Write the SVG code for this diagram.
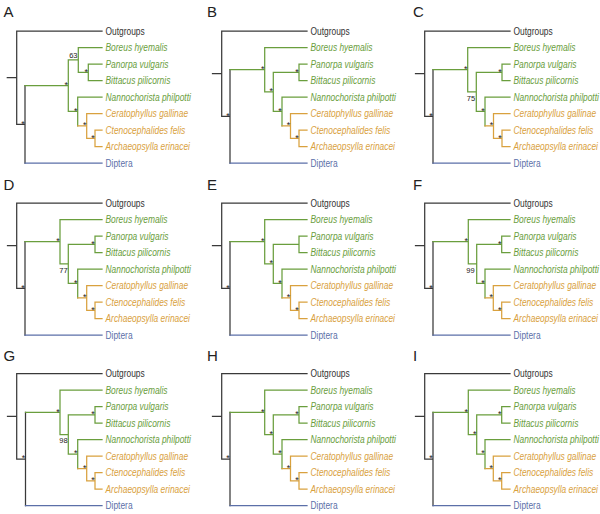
<svg xmlns="http://www.w3.org/2000/svg" width="600" height="514" viewBox="0 0 600 514">
<style>
rect.bg{fill:#fff}
path{fill:none;stroke-width:1.25;stroke-linecap:square;stroke-linejoin:miter}
.k{stroke:#3a3a3a}.g{stroke:#6a9e3d}.o{stroke:#d9a13e}.b{stroke:#5b6fa8}
text{font-family:"Liberation Sans",Arial,sans-serif}
.pl{font-size:15px;fill:#222}
.t{font-size:10.5px}
.i{font-style:italic}
.tk{fill:#333}.tg{fill:#6a9e3d}.to{fill:#d9a13e}.tb{fill:#5b6fa8}
.s{font-size:9px;fill:#222;text-anchor:end}
.ne{font-size:7.5px;fill:#222;text-anchor:end}
.n{font-size:7.5px;fill:#222;text-anchor:middle}
</style>
<rect class="bg" x="0" y="0" width="600" height="514"/>

<!-- Panel A -->
<g id="panelA">
<text class="pl" x="3.5" y="16.5">A</text>
<g id="A-connectors">
<path class="k" d="M7.3,77.66H16.7M102,31H16.7V124.33H25M25,85.66V163"/>
<path class="b" d="M25,163H102"/>
<path class="g" d="M25,85.66H68.3M68.3,59.88V111.44M68.3,59.88H78.3M102,47.5H78.3V72.25H88.3M102,64H88.3V80.5H102M68.3,111.44H77.7M102,97H77.7V125.88"/>
<path class="o" d="M77.7,125.88H86.7M102,113.5H86.7V138.25H95M102,130H95V146.5H102"/>
</g>
<g id="A-support">
<text class="s" x="24.7" y="126.6">*</text>
<text class="s" x="68" y="88">*</text>
<text class="ne" x="77.5" y="57.5">63</text>
<text class="s" x="88" y="74.5">*</text>
<text class="s" x="77.4" y="113.7">*</text>
<text class="s" x="86.4" y="128.2">*</text>
<text class="s" x="94.7" y="140.5">*</text>
</g>
<g transform="translate(105.5,0) scale(0.8,1)">
<g id="A-outgroups"><text class="t tk" x="0" y="34.7">Outgroups</text></g>
<g id="A-boreus"><text class="t i tg" x="0" y="51.2">Boreus hyemalis</text></g>
<g id="A-panorpa"><text class="t i tg" x="0" y="67.7">Panorpa vulgaris</text></g>
<g id="A-bittacus"><text class="t i tg" x="0" y="84.2">Bittacus pilicornis</text></g>
<g id="A-nannochorista"><text class="t i tg" x="0" y="100.7">Nannochorista philpotti</text></g>
<g id="A-ceratophyllus"><text class="t i to" x="0" y="117.2">Ceratophyllus gallinae</text></g>
<g id="A-ctenocephalides"><text class="t i to" x="0" y="133.7">Ctenocephalides felis</text></g>
<g id="A-archaeopsylla"><text class="t i to" x="0" y="150.2">Archaeopsylla erinacei</text></g>
<g id="A-diptera"><text class="t tb" x="0" y="166.7">Diptera</text></g>
</g>
</g>

<!-- Panel B -->
<g id="panelB" transform="translate(205,0)">
<text class="pl" x="2" y="16.5">B</text>
<g id="B-connectors">
<path class="k" d="M7.5,73.67H16.7M102,31H16.7V116.34H25M25,69.67V163"/>
<path class="b" d="M25,163H102"/>
<path class="g" d="M25,69.67H59.7M102,47.5H59.7V91.84H68.3M102,64H94V80.5H102M94,72.25H68.3V111.44H77M102,97H77V125.88"/>
<path class="o" d="M77,125.88H85.5M102,113.5H85.5V138.25H94M102,130H94V146.5H102"/>
</g>
<g id="B-support">
<text class="s" x="24.7" y="118.6">*</text>
<text class="s" x="59.4" y="72">*</text>
<text class="s" x="68" y="94.1">*</text>
<text class="s" x="93.7" y="74.5">*</text>
<text class="s" x="76.7" y="113.7">*</text>
<text class="s" x="85.2" y="128.2">*</text>
<text class="s" x="93.7" y="140.5">*</text>
</g>
<g transform="translate(105.5,0) scale(0.8,1)">
<g id="B-outgroups"><text class="t tk" x="0" y="34.7">Outgroups</text></g>
<g id="B-boreus"><text class="t i tg" x="0" y="51.2">Boreus hyemalis</text></g>
<g id="B-panorpa"><text class="t i tg" x="0" y="67.7">Panorpa vulgaris</text></g>
<g id="B-bittacus"><text class="t i tg" x="0" y="84.2">Bittacus pilicornis</text></g>
<g id="B-nannochorista"><text class="t i tg" x="0" y="100.7">Nannochorista philpotti</text></g>
<g id="B-ceratophyllus"><text class="t i to" x="0" y="117.2">Ceratophyllus gallinae</text></g>
<g id="B-ctenocephalides"><text class="t i to" x="0" y="133.7">Ctenocephalides felis</text></g>
<g id="B-archaeopsylla"><text class="t i to" x="0" y="150.2">Archaeopsylla erinacei</text></g>
<g id="B-diptera"><text class="t tb" x="0" y="166.7">Diptera</text></g>
</g>
</g>

<!-- Panel C -->
<g id="panelC" transform="translate(408,0)">
<text class="pl" x="5" y="16.5">C</text>
<g id="C-connectors">
<path class="k" d="M7.5,73.67H16.7M102,31H16.7V116.34H25M25,69.67V163"/>
<path class="b" d="M25,163H102"/>
<path class="g" d="M25,69.67H59.7M102,47.5H59.7V91.84H68.3M102,64H94V80.5H102M94,72.25H68.3V111.44H77M102,97H77V125.88"/>
<path class="o" d="M77,125.88H85.5M102,113.5H85.5V138.25H94M102,130H94V146.5H102"/>
</g>
<g id="C-support">
<text class="s" x="24.7" y="118.6">*</text>
<text class="s" x="59.4" y="72">*</text>
<text class="n" x="63" y="100.5">75</text>
<text class="s" x="93.7" y="74.5">*</text>
<text class="s" x="76.7" y="113.7">*</text>
<text class="s" x="85.2" y="128.2">*</text>
<text class="s" x="93.7" y="140.5">*</text>
</g>
<g transform="translate(105.5,0) scale(0.8,1)">
<g id="C-outgroups"><text class="t tk" x="0" y="34.7">Outgroups</text></g>
<g id="C-boreus"><text class="t i tg" x="0" y="51.2">Boreus hyemalis</text></g>
<g id="C-panorpa"><text class="t i tg" x="0" y="67.7">Panorpa vulgaris</text></g>
<g id="C-bittacus"><text class="t i tg" x="0" y="84.2">Bittacus pilicornis</text></g>
<g id="C-nannochorista"><text class="t i tg" x="0" y="100.7">Nannochorista philpotti</text></g>
<g id="C-ceratophyllus"><text class="t i to" x="0" y="117.2">Ceratophyllus gallinae</text></g>
<g id="C-ctenocephalides"><text class="t i to" x="0" y="133.7">Ctenocephalides felis</text></g>
<g id="C-archaeopsylla"><text class="t i to" x="0" y="150.2">Archaeopsylla erinacei</text></g>
<g id="C-diptera"><text class="t tb" x="0" y="166.7">Diptera</text></g>
</g>
</g>

<!-- Panel D -->
<g id="panelD" transform="translate(0,172)">
<text class="pl" x="3.5" y="18">D</text>
<g id="D-connectors">
<path class="k" d="M7.5,73.67H16.7M102,31H16.7V116.34H25M25,69.67V163"/>
<path class="b" d="M25,163H102"/>
<path class="g" d="M25,69.67H60M102,47.5H60V91.84H68.3M102,64H95V80.5H102M95,72.25H68.3V111.44H77.7M102,97H77.7V125.88"/>
<path class="o" d="M77.7,125.88H86.7M102,113.5H86.7V138.25H95M102,130H95V146.5H102"/>
</g>
<g id="D-support">
<text class="s" x="24.7" y="118.6">*</text>
<text class="s" x="59.7" y="72">*</text>
<text class="n" x="63.5" y="100.8">77</text>
<text class="s" x="94.7" y="74.5">*</text>
<text class="s" x="77.4" y="113.7">*</text>
<text class="s" x="86.4" y="128.2">*</text>
<text class="s" x="94.7" y="140.5">*</text>
</g>
<g transform="translate(105.5,0) scale(0.8,1)">
<g id="D-outgroups"><text class="t tk" x="0" y="34.7">Outgroups</text></g>
<g id="D-boreus"><text class="t i tg" x="0" y="51.2">Boreus hyemalis</text></g>
<g id="D-panorpa"><text class="t i tg" x="0" y="67.7">Panorpa vulgaris</text></g>
<g id="D-bittacus"><text class="t i tg" x="0" y="84.2">Bittacus pilicornis</text></g>
<g id="D-nannochorista"><text class="t i tg" x="0" y="100.7">Nannochorista philpotti</text></g>
<g id="D-ceratophyllus"><text class="t i to" x="0" y="117.2">Ceratophyllus gallinae</text></g>
<g id="D-ctenocephalides"><text class="t i to" x="0" y="133.7">Ctenocephalides felis</text></g>
<g id="D-archaeopsylla"><text class="t i to" x="0" y="150.2">Archaeopsylla erinacei</text></g>
<g id="D-diptera"><text class="t tb" x="0" y="166.7">Diptera</text></g>
</g>
</g>

<!-- Panel E -->
<g id="panelE" transform="translate(205,172)">
<text class="pl" x="2" y="18">E</text>
<g id="E-connectors">
<path class="k" d="M7.5,73.67H16.7M102,31H16.7V116.34H25M25,69.67V163"/>
<path class="b" d="M25,163H102"/>
<path class="g" d="M25,69.67H59.7M102,47.5H59.7V91.84H68.3M102,64H94V80.5H102M94,72.25H68.3V111.44H77M102,97H77V125.88"/>
<path class="o" d="M77,125.88H85.5M102,113.5H85.5V138.25H94M102,130H94V146.5H102"/>
</g>
<g id="E-support">
<text class="s" x="24.7" y="118.6">*</text>
<text class="s" x="59.4" y="72">*</text>
<text class="s" x="68" y="94.1">*</text>
<text class="s" x="76.7" y="113.7">*</text>
<text class="s" x="85.2" y="128.2">*</text>
<text class="s" x="93.7" y="140.5">*</text>
</g>
<g transform="translate(105.5,0) scale(0.8,1)">
<g id="E-outgroups"><text class="t tk" x="0" y="34.7">Outgroups</text></g>
<g id="E-boreus"><text class="t i tg" x="0" y="51.2">Boreus hyemalis</text></g>
<g id="E-panorpa"><text class="t i tg" x="0" y="67.7">Panorpa vulgaris</text></g>
<g id="E-bittacus"><text class="t i tg" x="0" y="84.2">Bittacus pilicornis</text></g>
<g id="E-nannochorista"><text class="t i tg" x="0" y="100.7">Nannochorista philpotti</text></g>
<g id="E-ceratophyllus"><text class="t i to" x="0" y="117.2">Ceratophyllus gallinae</text></g>
<g id="E-ctenocephalides"><text class="t i to" x="0" y="133.7">Ctenocephalides felis</text></g>
<g id="E-archaeopsylla"><text class="t i to" x="0" y="150.2">Archaeopsylla erinacei</text></g>
<g id="E-diptera"><text class="t tb" x="0" y="166.7">Diptera</text></g>
</g>
</g>

<!-- Panel F -->
<g id="panelF" transform="translate(408,172)">
<text class="pl" x="5" y="18">F</text>
<g id="F-connectors">
<path class="k" d="M7.5,73.67H16.7M102,31H16.7V116.34H25M25,69.67V163"/>
<path class="b" d="M25,163H102"/>
<path class="g" d="M25,69.67H60.3M102,47.5H60.3V91.84H68.7M102,64H93.7V80.5H102M93.7,72.25H68.7V111.44H77M102,97H77V125.88"/>
<path class="o" d="M77,125.88H85.3M102,113.5H85.3V138.25H93.7M102,130H93.7V146.5H102"/>
</g>
<g id="F-support">
<text class="s" x="24.7" y="118.6">*</text>
<text class="s" x="60" y="72">*</text>
<text class="n" x="62.5" y="100.8">99</text>
<text class="s" x="93.4" y="74.5">*</text>
<text class="s" x="76.7" y="113.7">*</text>
<text class="s" x="85" y="128.2">*</text>
<text class="s" x="93.4" y="140.5">*</text>
</g>
<g transform="translate(105.5,0) scale(0.8,1)">
<g id="F-outgroups"><text class="t tk" x="0" y="34.7">Outgroups</text></g>
<g id="F-boreus"><text class="t i tg" x="0" y="51.2">Boreus hyemalis</text></g>
<g id="F-panorpa"><text class="t i tg" x="0" y="67.7">Panorpa vulgaris</text></g>
<g id="F-bittacus"><text class="t i tg" x="0" y="84.2">Bittacus pilicornis</text></g>
<g id="F-nannochorista"><text class="t i tg" x="0" y="100.7">Nannochorista philpotti</text></g>
<g id="F-ceratophyllus"><text class="t i to" x="0" y="117.2">Ceratophyllus gallinae</text></g>
<g id="F-ctenocephalides"><text class="t i to" x="0" y="133.7">Ctenocephalides felis</text></g>
<g id="F-archaeopsylla"><text class="t i to" x="0" y="150.2">Archaeopsylla erinacei</text></g>
<g id="F-diptera"><text class="t tb" x="0" y="166.7">Diptera</text></g>
</g>
</g>

<!-- Panel G -->
<g id="panelG" transform="translate(0,342.7)">
<text class="pl" x="3.5" y="18.5">G</text>
<g id="G-connectors">
<path class="k" d="M7.5,73.67H16.7M102,31H16.7V116.34H25.5M25.5,69.67V163"/>
<path class="b" d="M25.5,163H102"/>
<path class="g" d="M25.5,69.67H60M102,47.5H60V91.84H68.3M102,64H95V80.5H102M95,72.25H68.3V111.44H77.7M102,97H77.7V125.88"/>
<path class="o" d="M77.7,125.88H86.7M102,113.5H86.7V138.25H95M102,130H95V146.5H102"/>
</g>
<g id="G-support">
<text class="s" x="25.2" y="118.6">*</text>
<text class="s" x="59.7" y="72">*</text>
<text class="n" x="63.5" y="100.8">98</text>
<text class="s" x="94.7" y="74.5">*</text>
<text class="s" x="77.4" y="113.7">*</text>
<text class="s" x="86.4" y="128.2">*</text>
<text class="s" x="94.7" y="140.5">*</text>
</g>
<g transform="translate(105.5,0) scale(0.8,1)">
<g id="G-outgroups"><text class="t tk" x="0" y="34.7">Outgroups</text></g>
<g id="G-boreus"><text class="t i tg" x="0" y="51.2">Boreus hyemalis</text></g>
<g id="G-panorpa"><text class="t i tg" x="0" y="67.7">Panorpa vulgaris</text></g>
<g id="G-bittacus"><text class="t i tg" x="0" y="84.2">Bittacus pilicornis</text></g>
<g id="G-nannochorista"><text class="t i tg" x="0" y="100.7">Nannochorista philpotti</text></g>
<g id="G-ceratophyllus"><text class="t i to" x="0" y="117.2">Ceratophyllus gallinae</text></g>
<g id="G-ctenocephalides"><text class="t i to" x="0" y="133.7">Ctenocephalides felis</text></g>
<g id="G-archaeopsylla"><text class="t i to" x="0" y="150.2">Archaeopsylla erinacei</text></g>
<g id="G-diptera"><text class="t tb" x="0" y="166.7">Diptera</text></g>
</g>
</g>

<!-- Panel H -->
<g id="panelH" transform="translate(205,342.7)">
<text class="pl" x="2" y="18.5">H</text>
<g id="H-connectors">
<path class="k" d="M7.5,73.67H16.7M102,31H16.7V116.34H25M25,69.67V163"/>
<path class="b" d="M25,163H102"/>
<path class="g" d="M25,69.67H59.7M102,47.5H59.7V91.84H68.3M102,64H94V80.5H102M94,72.25H68.3V111.44H77M102,97H77V125.88"/>
<path class="o" d="M77,125.88H85.5M102,113.5H85.5V138.25H94M102,130H94V146.5H102"/>
</g>
<g id="H-support">
<text class="s" x="24.7" y="118.6">*</text>
<text class="s" x="59.4" y="72">*</text>
<text class="s" x="68" y="94.1">*</text>
<text class="s" x="93.7" y="74.5">*</text>
<text class="s" x="76.7" y="113.7">*</text>
<text class="s" x="85.2" y="128.2">*</text>
<text class="s" x="93.7" y="140.5">*</text>
</g>
<g transform="translate(105.5,0) scale(0.8,1)">
<g id="H-outgroups"><text class="t tk" x="0" y="34.7">Outgroups</text></g>
<g id="H-boreus"><text class="t i tg" x="0" y="51.2">Boreus hyemalis</text></g>
<g id="H-panorpa"><text class="t i tg" x="0" y="67.7">Panorpa vulgaris</text></g>
<g id="H-bittacus"><text class="t i tg" x="0" y="84.2">Bittacus pilicornis</text></g>
<g id="H-nannochorista"><text class="t i tg" x="0" y="100.7">Nannochorista philpotti</text></g>
<g id="H-ceratophyllus"><text class="t i to" x="0" y="117.2">Ceratophyllus gallinae</text></g>
<g id="H-ctenocephalides"><text class="t i to" x="0" y="133.7">Ctenocephalides felis</text></g>
<g id="H-archaeopsylla"><text class="t i to" x="0" y="150.2">Archaeopsylla erinacei</text></g>
<g id="H-diptera"><text class="t tb" x="0" y="166.7">Diptera</text></g>
</g>
</g>

<!-- Panel I -->
<g id="panelI" transform="translate(408,342.7)">
<text class="pl" x="5" y="18.5">I</text>
<g id="I-connectors">
<path class="k" d="M7.5,73.67H16.7M102,31H16.7V116.34H25M25,69.67V163"/>
<path class="b" d="M25,163H102"/>
<path class="g" d="M25,69.67H60.3M102,47.5H60.3V91.84H68.7M102,64H93.7V80.5H102M93.7,72.25H68.7V111.44H77M102,97H77V125.88"/>
<path class="o" d="M77,125.88H85.3M102,113.5H85.3V138.25H93.7M102,130H93.7V146.5H102"/>
</g>
<g id="I-support">
<text class="s" x="24.7" y="118.6">*</text>
<text class="s" x="60" y="72">*</text>
<text class="s" x="68.4" y="94.1">*</text>
<text class="s" x="93.4" y="74.5">*</text>
<text class="s" x="76.7" y="113.7">*</text>
<text class="s" x="85" y="128.2">*</text>
<text class="s" x="93.4" y="140.5">*</text>
</g>
<g transform="translate(105.5,0) scale(0.8,1)">
<g id="I-outgroups"><text class="t tk" x="0" y="34.7">Outgroups</text></g>
<g id="I-boreus"><text class="t i tg" x="0" y="51.2">Boreus hyemalis</text></g>
<g id="I-panorpa"><text class="t i tg" x="0" y="67.7">Panorpa vulgaris</text></g>
<g id="I-bittacus"><text class="t i tg" x="0" y="84.2">Bittacus pilicornis</text></g>
<g id="I-nannochorista"><text class="t i tg" x="0" y="100.7">Nannochorista philpotti</text></g>
<g id="I-ceratophyllus"><text class="t i to" x="0" y="117.2">Ceratophyllus gallinae</text></g>
<g id="I-ctenocephalides"><text class="t i to" x="0" y="133.7">Ctenocephalides felis</text></g>
<g id="I-archaeopsylla"><text class="t i to" x="0" y="150.2">Archaeopsylla erinacei</text></g>
<g id="I-diptera"><text class="t tb" x="0" y="166.7">Diptera</text></g>
</g>
</g>
</svg>
